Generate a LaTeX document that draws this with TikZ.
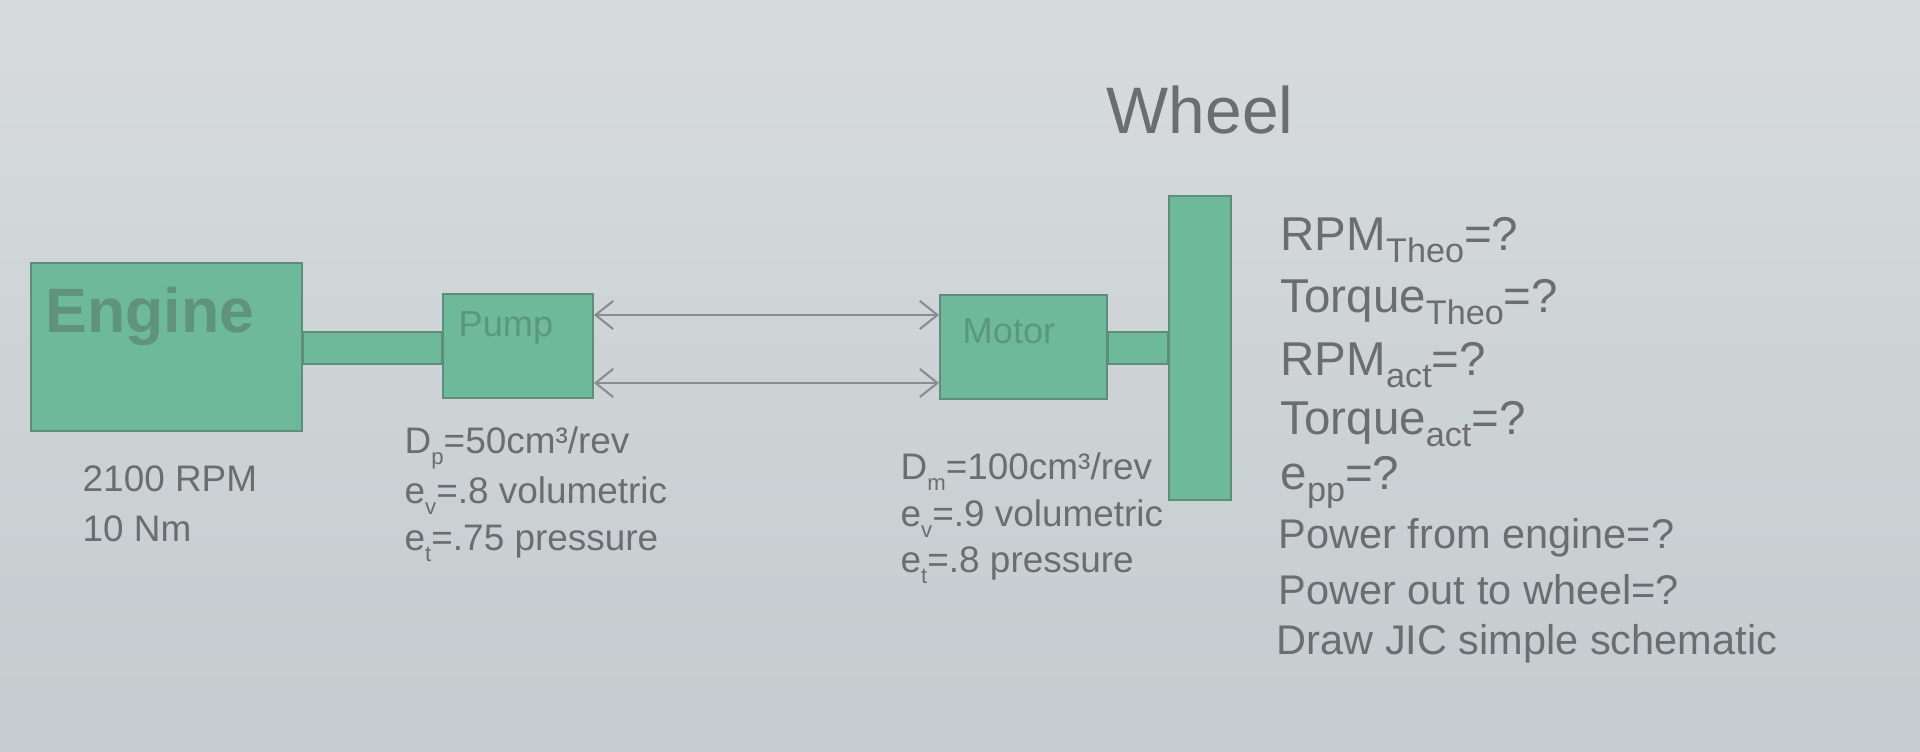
\documentclass[tikz,border=0pt]{standalone}
\usepackage{fontspec}
\usepackage{graphicx}
\setmainfont{Liberation Sans}
\usetikzlibrary{arrows.meta,calc}
\definecolor{bgtop}{HTML}{D7DBDC}
\definecolor{bgbot}{HTML}{C4CCCF}
\definecolor{grn}{HTML}{6DB99A}
\definecolor{grnedge}{HTML}{5E8E7B}
\definecolor{grntxt}{HTML}{5B987B}
\definecolor{engtxt}{HTML}{5F937C}
\definecolor{txtc}{HTML}{6B6D70}
\definecolor{arrc}{HTML}{878D91}
\newcommand{\lowsub}[1]{\raisebox{-0.25em}{\scalebox{0.72}{#1}}}
\newcommand{\smallsub}[1]{\raisebox{-0.28em}{\scalebox{0.6}{#1}}}
\tikzset{
  box/.style={draw=grnedge, fill=grn, line width=0.5pt, inner sep=0pt},
  shaft/.style={draw=grnedge, fill=grn, line width=0.5pt},
  boxlabel/.style={text=grntxt, inner sep=0pt},
  txt/.style={text=txtc, inner sep=0pt, anchor=base west},
  bigq/.style={txt, font=\fontsize{13.5}{16}\selectfont},
  smallq/.style={txt, font=\fontsize{11.8}{14}\selectfont},
  spec/.style={txt, font=\fontsize{10.5}{13}\selectfont},
  pipe/.style={draw=arrc, line width=0.6pt, {Straight Barb[length=5pt,width=8pt]}-{Straight Barb[length=5pt,width=8pt]}}
}
\begin{document}
\begin{tikzpicture}[x=0.01cm, y=-0.01cm]
\useasboundingbox (0,0) rectangle (1920,752);
\shade[top color=bgtop, bottom color=bgbot] (0,0) rectangle (1920,752);

% boxes
\node[box, minimum width=2.71cm, minimum height=1.68cm] (engine) at (166.5,347) {};
\node[box, minimum width=1.50cm, minimum height=1.04cm] (pump) at (518,346) {};
\node[box, minimum width=1.67cm, minimum height=1.04cm] (motor) at (1023.5,347) {};
\node[box, minimum width=0.62cm, minimum height=3.04cm] (wheel) at (1200,348) {};

% shafts
\path[shaft] ($(engine.east)+(0,-15)$) rectangle ($(pump.west |- engine.east)+(0,17)$);
\path[shaft] ($(motor.east)+(0,-15)$) rectangle ($(wheel.west |- motor.east)+(0,17)$);

% labels in boxes
\node[boxlabel, text=engtxt, anchor=base, font=\bfseries\fontsize{17.8}{21}\selectfont] (englbl) at (150,333) {Engine};
\node[boxlabel, font=\fontsize{10.3}{12}\selectfont] (pumplbl) at (506,328) {Pump};
\node[boxlabel, font=\fontsize{10.3}{12}\selectfont] (motorlbl) at (1009,331) {Motor};

% hydraulic lines
\draw[pipe] (pump.east |- 0,315) -- (motor.west |- 0,315);
\draw[pipe] (pump.east |- 0,383) -- (motor.west |- 0,383);

% wheel title
\node[text=txtc, inner sep=0pt, font=\fontsize{18.7}{22}\selectfont] (wheeltitle) at (1200,110) {Wheel};

% engine specs
\node[spec] (rpm) at (82,492) {2100 RPM};
\node[spec] (nm) at (82,542) {10 Nm};

% pump specs
\node[spec] (dp) at (404,454) {D\smallsub{p}=50cm³/rev};
\node[spec] (evp) at (404,504) {e\smallsub{v}=.8 volumetric};
\node[spec] (etp) at (404,551) {e\smallsub{t}=.75 pressure};

% motor specs
\node[spec] (dm) at (900,480) {D\smallsub{m}=100cm³/rev};
\node[spec] (evm) at (900,527) {e\smallsub{v}=.9 volumetric};
\node[spec] (etm) at (900,573) {e\smallsub{t}=.8 pressure};

% questions
\node[bigq] (q1) at (1280,251) {RPM\lowsub{Theo}=?};
\node[bigq] (q2) at (1280,313) {Torque\lowsub{Theo}=?};
\node[bigq] (q3) at (1280,376) {RPM\lowsub{act}=?};
\node[bigq] (q4) at (1280,435) {Torque\lowsub{act}=?};
\node[bigq] (q5) at (1280,490) {e\lowsub{pp}=?};
\node[smallq] (q6) at (1278,549) {Power from engine=?};
\node[smallq] (q7) at (1278,605) {Power out to wheel=?};
\node[smallq] (q8) at (1276,655) {Draw JIC simple schematic};
\end{tikzpicture}
\end{document}
